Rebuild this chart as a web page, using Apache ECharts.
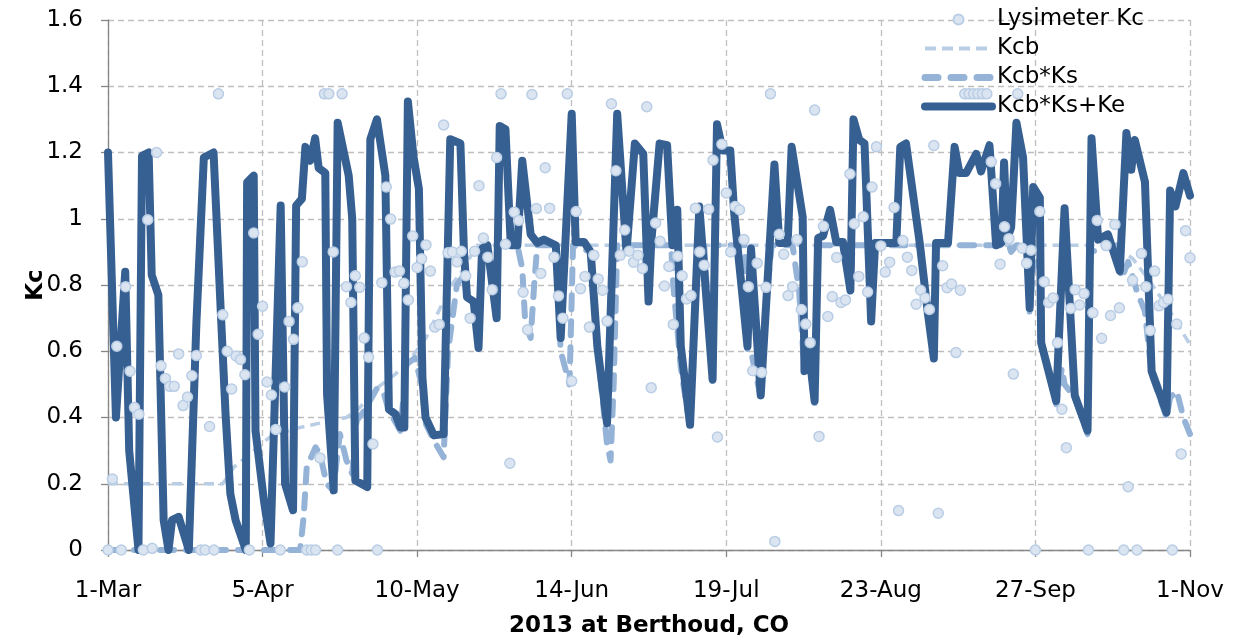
<!DOCTYPE html>
<html>
<head>
<meta charset="utf-8">
<script src="https://cdn.jsdelivr.net/npm/echarts/dist/echarts.min.js"></script>
<style>
html,body{margin:0;padding:0;background:#fff;}
#chart{width:1239px;height:643px;}
</style>
</head>
<body>
<div id="chart"></div>
<script>
// Tick labels (every 35 days from 1-Mar-2013)
const tickLabels = ['1-Mar','5-Apr','10-May','14-Jun','19-Jul','23-Aug','27-Sep','1-Nov'];

// Lysimeter Kc, one value per day (index = days after 1-Mar)
const lysimeterKc = [
0,0.214,0.615,0,0.795,0.54,0.43,0.41,0,0.997,0.005,1.2,0.556,0.518,0.494,0.494,0.592,0.436,0.462,0.526,
0.587,0,0,0.373,0,1.377,0.71,0.6,0.486,0.586,0.575,0.529,0,0.957,0.651,0.736,0.507,0.468,0.364,0,
0.492,0.69,0.636,0.731,0.87,0,0,0,0.278,1.377,1.377,0.9,0,1.377,0.795,0.747,0.828,0.793,0.64,0.582,
0.32,0,0.807,1.096,0.999,0.839,0.842,0.805,0.755,0.948,0.853,0.879,0.921,0.842,0.673,0.681,1.283,0.897,0.9,0.87,
0.902,0.828,0.7,0.902,1.1,0.942,0.884,0.786,1.185,1.377,0.923,0.262,1.02,0.995,0.778,0.665,1.375,1.031,0.835,1.154,
1.032,0.884,0.767,0.7,1.377,0.51,1.022,0.789,0.826,0.673,0.89,0.818,0.784,0.691,1.347,1.145,0.89,0.966,0.902,0.869,
0.89,0.85,1.338,0.49,0.987,0.932,0.797,0.856,0.681,0.887,0.828,0.758,0.768,1.032,0.9,0.86,1.029,1.177,0.341,1.225,
1.078,0.9,1.037,1.027,0.937,0.795,0.541,0.866,0.536,0.793,1.377,0.026,0.953,0.893,0.768,0.795,0.937,0.726,0.682,0.626,
1.328,0.343,0.977,0.705,0.765,0.883,0.747,0.755,1.135,0.985,0.826,1.006,0.779,1.096,1.217,0.918,0.839,0.869,1.034,0.119,
0.934,0.884,0.844,0.742,0.784,0.761,0.726,1.221,0.111,0.858,0.792,0.803,0.596,0.784,1.377,1.377,1.377,1.377,1.377,1.377,
1.172,1.106,0.863,0.976,0.94,0.531,1.377,0.911,0.866,0.905,0,1.022,0.81,0.747,0.761,0.626,0.425,0.309,0.729,0.786,
0.74,0.774,0,0.716,0.995,0.639,0.919,0.708,0.983,0.731,0,0.191,0.814,0,0.895,0.795,0.663,0.842,0.737,0.747,
0.757,0,0.682,0.29,0.964,0.882
];

// Kcb [day, value]
const kcb = [[0,0.2],[26,0.2],[28.5,0.25],[33,0.3],[37,0.345],[43.5,0.37],[54,0.40],[57,0.43],[61,0.49],[65,0.53],
[69.2,0.59],[72,0.64],[74.5,0.71],[77.5,0.795],[80.6,0.85],[83.5,0.92],[228,0.92],[232,0.88],[236,0.81],[240,0.73],[245,0.62]];

// Kcb*Ks [day, value]
const kcbKs = [[0,0],[43.5,0],[44.3,0.1],[45,0.25],[47,0.31],[48,0.29],[49.5,0.2],[51,0.18],[52.5,0.35],[54,0.27],
[55.3,0.23],[56.3,0.39],[58,0.42],[61,0.49],[62.5,0.47],[63.6,0.42],[66.2,0.36],[67.6,0.56],[69.5,0.58],[71,0.5],
[72,0.38],[73.8,0.33],[76,0.28],[77,0.6],[79,0.8],[80.6,0.83],[81.3,0.76],[82.8,0.75],[83.9,0.61],[84.7,0.9],
[85.9,0.92],[92.7,0.92],[93.8,0.85],[94.5,0.68],[95.7,0.64],[96.5,0.8],[97.2,0.92],[101.4,0.92],[102.5,0.6],[104.5,0.5],
[105.3,0.92],[109.3,0.9],[110.8,0.615],[113,0.32],[113.8,0.27],[114.5,0.5],[115.3,0.92],[121.2,0.92],[122.4,0.75],[123,0.92],
[127.5,0.92],[128,0.8],[129.7,0.55],[131.8,0.37],[133.5,0.92],[135,0.92],[136.9,0.51],[137.6,0.92],[144.2,0.92],[144.8,0.6],
[145.6,0.6],[147.8,0.46],[149.4,0.8],[150.3,0.92],[155,0.92],[156.5,0.78],[157.7,0.54],[158.5,0.6],[160,0.44],[160.8,0.92],
[168,0.92],[168.1,0.78],[168.6,0.92],[172.2,0.92],[172.8,0.69],[173.5,0.92],[184,0.92],[185.6,0.72],[187,0.57],[187.5,0.92],
[204,0.92],[204.5,0.9],[205.7,0.92],[208,0.92],[208.7,0.72],[209.5,0.85],[211,0.88],[211.5,0.62],[214.7,0.44],[216,0.55],
[216.6,0.5],[218.9,0.46],[221.8,0.35],[222.5,0.9],[228.5,0.92],[229.5,0.82],[231,0.87],[233,0.78],[234.8,0.72],[236.3,0.53],
[239.7,0.40],[240.5,0.46],[242,0.48],[243.5,0.40],[245,0.35]];

// Kcb*Ks+Ke [day, value]
const kcbKsKe = [[0,1.2],[1.8,0.40],[3.9,0.84],[4.8,0.30],[6.9,0],[7.7,1.19],[9.2,1.2],[9.9,0.83],[11.4,0.77],[12.6,0.09],
[13.7,0],[14.5,0.09],[16,0.10],[18.3,0],[20,0.68],[21.7,1.185],[23.9,1.2],[25.5,0.73],[26.6,0.415],[27.7,0.17],
[28.9,0.09],[31.2,0],[31.5,1.11],[33,1.13],[33.4,0.36],[35.3,0.15],[36.8,0.02],[39.1,1.04],[40.1,0.2],[41.9,0.12],
[42.6,1.04],[43.9,1.06],[44.7,1.217],[45.8,1.175],[46.9,1.243],[47.7,1.153],[49.2,1.138],[49.6,0.47],[51.1,0.18],[52,1.29],
[54.5,1.13],[55.3,1.0],[56,0.21],[58.7,0.19],[59.4,1.24],[60.9,1.30],[62.8,1.13],[63.6,0.425],[65.1,0.41],[66.2,0.37],
[67.1,0.37],[67.9,1.354],[69.2,1.185],[70.4,1.09],[71.2,0.52],[71.9,0.40],[73.8,0.346],[76,0.35],[77.5,1.24],[79.8,1.227],
[80.6,0.90],[81.3,0.763],[82.8,0.75],[83.9,0.61],[84.7,0.91],[85.9,0.92],[88,0.70],[88.7,1.28],[90,1.27],[91.2,0.92],
[92.7,0.92],[93.8,1.175],[95.7,0.953],[97.2,0.927],[98.7,0.937],[101.4,0.92],[102.5,0.64],[105,1.317],[105.9,0.93],[107.8,0.93],
[109.3,0.90],[110.8,0.615],[113,0.383],[115.3,1.317],[117.4,0.90],[119.3,1.227],[121.2,1.196],[122.4,0.75],[123,0.927],[124.9,1.227],
[126.6,1.222],[127.8,0.92],[128.9,1.027],[129.7,0.615],[131.8,0.378],[133.9,1.037],[136.9,0.515],[137.9,1.285],[139.2,1.206],[140.9,1.206],
[141.8,1.016],[144.8,0.615],[145.6,0.91],[147.8,0.467],[149.4,0.826],[150.9,1.164],[152,0.927],[153.9,0.927],[154.8,1.217],[157.3,1.006],
[157.7,0.54],[158.5,0.626],[160,0.45],[160.8,0.942],[161.9,0.948],[163.5,1.027],[164.9,0.93],[166.4,0.93],[168.1,0.784],[168.8,1.30],
[170.1,1.238],[171.3,1.227],[172.8,0.69],[173.7,0.927],[178.5,0.927],[179.4,1.217],[180.7,1.227],[183.8,0.927],[185.6,0.72],[187,0.578],
[187.5,0.927],[190.2,0.927],[191.7,1.217],[192.8,1.138],[194.3,1.138],[196.6,1.196],[197.7,1.143],[199.6,1.222],[201.1,0.92],[202.3,0.927],
[202.9,1.17],[203.6,0.94],[204.5,0.974],[205.7,1.29],[207.2,1.185],[208.7,0.73],[209.5,1.096],[211,1.064],[211.3,0.626],[214.7,0.45],
[216.6,1.032],[218.9,0.467],[221.8,0.36],[222.7,1.243],[224.2,0.937],[226.4,0.953],[229.1,0.842],[230.6,1.259],[231.7,1.148],[232.5,1.238],
[234.8,1.111],[236.3,0.54],[239.7,0.415],[240.5,1.085],[241.7,1.037],[243.5,1.138],[245,1.07]];

const lysPoints = lysimeterKc.map((v, i) => [i, v]);

const FONT = '"DejaVu Sans", "Liberation Sans", Arial, sans-serif';
const C_DARK = '#376092', C_MED = '#95b3d7', C_LIGHT = '#b9cde5', C_PT = '#dbe5f1';
const chart = echarts.init(document.getElementById('chart'), null, {renderer: 'canvas'});
chart.setOption({
  animation: false,
  backgroundColor: '#ffffff',
  textStyle: {fontFamily: FONT},
  grid: {left: 108, right: 49, top: 20, bottom: 88, containLabel: false},
  legend: {
    orient: 'vertical',
    left: 921,
    top: 8,
    padding: 0,
    itemWidth: 67,
    itemHeight: 10,
    itemGap: 6,
    textStyle: {fontFamily: FONT, fontSize: 23, color: '#000', lineHeight: 20},
    data: [
      {name: 'Lysimeter Kc'},
      {name: 'Kcb', itemStyle: {opacity: 0}, lineStyle: {width: 4, type: [11, 6], cap: 'butt', color: C_LIGHT}},
      {name: 'Kcb*Ks', itemStyle: {opacity: 0}, lineStyle: {width: 7, type: [13, 13], cap: 'round', color: C_MED}},
      {name: 'Kcb*Ks+Ke', itemStyle: {opacity: 0}, lineStyle: {width: 8, type: 'solid', cap: 'round', color: C_DARK}}
    ]
  },
  xAxis: {
    type: 'value',
    min: 0, max: 245, interval: 35,
    name: '2013 at Berthoud, CO',
    nameLocation: 'middle',
    nameGap: 65,
    nameMoveOverlap: false,
    nameTextStyle: {fontFamily: FONT, fontSize: 23, fontWeight: 'bold', color: '#000'},
    axisLine: {show: true, onZero: false, lineStyle: {color: '#868686', width: 1.3}},
    axisTick: {show: true, length: 7, lineStyle: {color: '#868686', width: 1.3}},
    axisLabel: {
      fontFamily: FONT, fontSize: 23, color: '#000', margin: 30,
      formatter: v => tickLabels[Math.round(v / 35)] || ''
    },
    splitLine: {show: true, lineStyle: {color: '#bfbfbf', width: 1.3, type: [6, 4]}}
  },
  yAxis: {
    type: 'value',
    min: 0, max: 1.6, interval: 0.2,
    name: 'Kc',
    nameLocation: 'middle',
    nameGap: 60,
    nameMoveOverlap: false,
    nameTextStyle: {fontFamily: FONT, fontSize: 23, fontWeight: 'bold', color: '#000'},
    axisLine: {show: true, lineStyle: {color: '#868686', width: 1.3}},
    axisTick: {show: true, length: 7, lineStyle: {color: '#868686', width: 1.3}},
    axisLabel: {
      fontFamily: FONT, fontSize: 23, color: '#000', margin: 25,
      formatter: v => (Math.abs(v - Math.round(v)) < 1e-9 ? String(Math.round(v)) : v.toFixed(1))
    },
    splitLine: {show: true, lineStyle: {color: '#bfbfbf', width: 1.3, type: [6, 4]}}
  },
  series: [
    {
      name: 'Lysimeter Kc',
      type: 'scatter',
      data: lysPoints,
      symbol: 'circle',
      symbolSize: 10,
      z: 6,
      itemStyle: {color: C_PT, borderColor: C_LIGHT, borderWidth: 1.5, opacity: 1}
    },
    {
      name: 'Kcb',
      type: 'line',
      data: kcb,
      showSymbol: false,
      symbol: 'none',
      z: 2,
      lineStyle: {color: C_LIGHT, width: 3.5, type: [10, 6], cap: 'butt'},
      itemStyle: {color: C_LIGHT}
    },
    {
      name: 'Kcb*Ks',
      type: 'line',
      data: kcbKs,
      showSymbol: false,
      symbol: 'none',
      z: 3,
      lineStyle: {color: C_MED, width: 6, type: [14, 12], cap: 'round', join: 'round'},
      itemStyle: {color: C_MED}
    },
    {
      name: 'Kcb*Ks+Ke',
      type: 'line',
      data: kcbKsKe,
      showSymbol: false,
      symbol: 'none',
      z: 4,
      lineStyle: {color: C_DARK, width: 8, cap: 'round', join: 'round'},
      itemStyle: {color: C_DARK}
    }
  ]
});
</script>
</body>
</html>
